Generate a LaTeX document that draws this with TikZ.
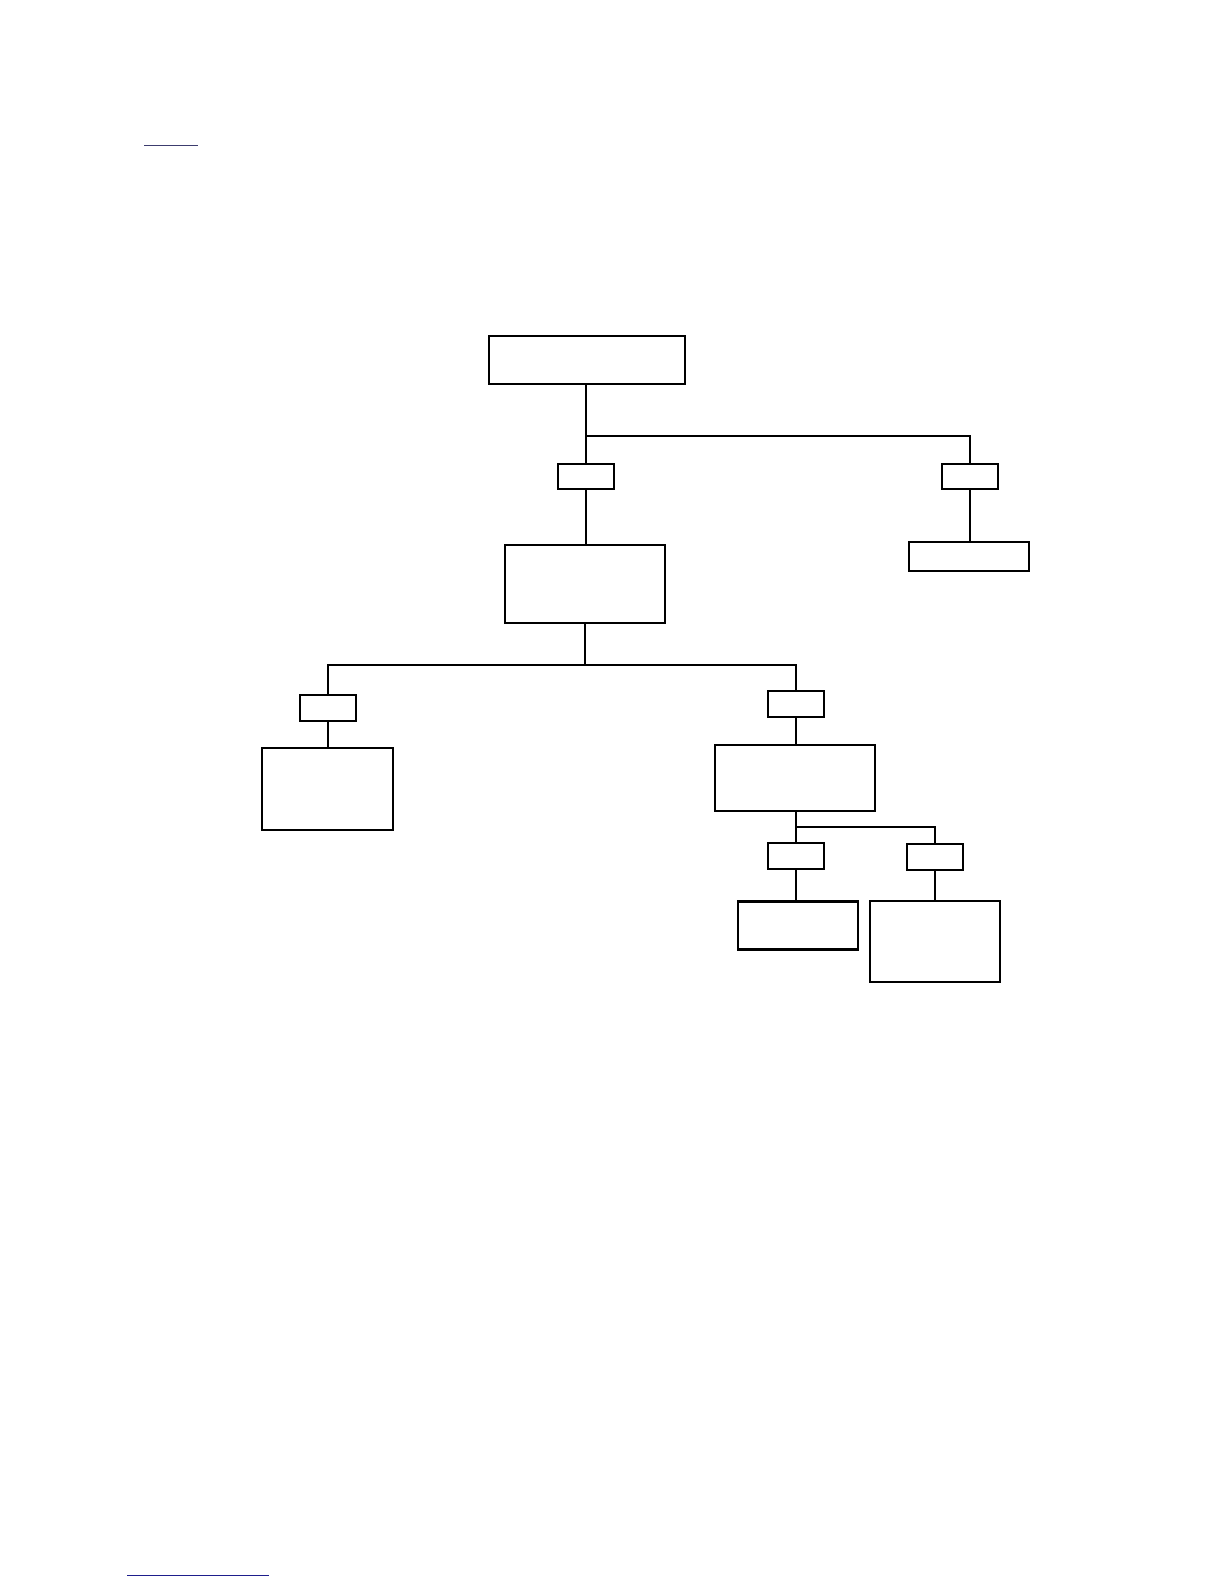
\documentclass[tikz,border=0pt]{standalone}
\usepackage{tikz}
\usetikzlibrary{positioning}
\definecolor{linkTop}{RGB}{60,60,110}
\definecolor{linkBottom}{RGB}{30,30,140}
\tikzset{
  treeBox/.style={draw, rectangle, line width=1.45pt, inner sep=0pt, fill=white},
  treeTag/.style={treeBox, minimum width=14.1mm, minimum height=6.3mm},
  treeLine/.style={line width=1.45pt},
  linkRule/.style={line width=0.6pt}
}
\begin{document}
\begin{tikzpicture}[x=0.25mm, y=-0.25mm]
      \useasboundingbox (0,0) rectangle (1224,1584);
      % upper level
      \node[treeBox, minimum width=49mm, minimum height=12mm] (root) at (587,360) {};
      \node[treeTag] (tagMain) at (586,476.5) {};
      \node[treeTag] (tagSide) at (970,476.5) {};
      \node[treeBox, minimum width=40mm, minimum height=19.5mm] (middle) at (585,584) {};
      \node[treeBox, minimum width=30mm, minimum height=7.2mm] (sideLeaf) at (969,556.5) {};
      \coordinate (joinTop) at (586,436);
      \draw[treeLine] (root.south -| tagMain) -- (tagMain.north);
      \draw[treeLine] (tagMain.south) -- (tagMain.south |- middle.north);
      \draw[treeLine] (joinTop) -| (tagSide.north);
      \draw[treeLine] (tagSide.south) -- (tagSide.south |- sideLeaf.north);

      % middle level
      \node[treeTag] (tagLeft) at (328,708) {};
      \node[treeTag] (tagRight) at (796,704) {};
      \node[treeBox, minimum width=32.7mm, minimum height=20.5mm] (leftLeaf) at (327.5,789) {};
      \node[treeBox, minimum width=40mm, minimum height=16.5mm] (subNode) at (795,778) {};
      \coordinate (joinMid) at (585,665);
      \draw[treeLine] (middle.south) -- (joinMid);
      \draw[treeLine] (tagLeft.north) -- (tagLeft.north |- joinMid) -- (tagRight.north |- joinMid) -- (tagRight.north);
      \draw[treeLine] (tagLeft.south) -- (tagLeft.south |- leftLeaf.north);
      \draw[treeLine] (tagRight.south) -- (tagRight.south |- subNode.north);

      % lower level
      \node[treeTag] (tagLow) at (796,856) {};
      \node[treeTag] (tagFar) at (935,857) {};
      \node[treeBox, minimum width=30mm, minimum height=12mm] (lowLeaf) at (798,925.5) {};
      \node[treeBox, minimum width=32.5mm, minimum height=20.2mm] (farLeaf) at (935,941.5) {};
      \coordinate (joinLow) at (796,827);
      \draw[treeLine] (subNode.south -| tagLow) -- (tagLow.north);
      \draw[treeLine] (joinLow) -| (tagFar.north);
      \draw[treeLine] (tagLow.south) -- (tagLow.south |- lowLeaf.north);
      \draw[treeLine] (tagFar) -- (farLeaf);

      % page rules
      \draw[linkRule, linkTop] (144,145) -- (198,145);
      \draw[linkRule, linkBottom] (127,1575) -- (269,1575);
\end{tikzpicture}
\end{document}
